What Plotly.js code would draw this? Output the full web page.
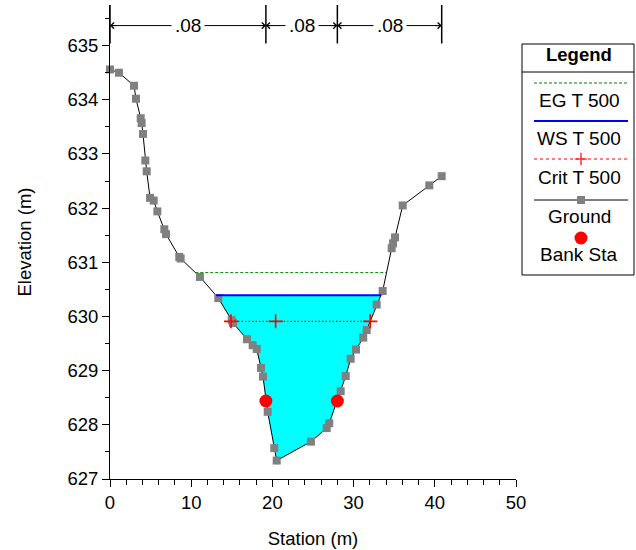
<!DOCTYPE html>
<html>
<head>
<meta charset="utf-8">
<script src="https://cdn.plot.ly/plotly-3.0.1.min.js"></script>
<style>html,body{margin:0;padding:0;background:#fff;}#chart{width:636px;height:550px;}</style>
</head>
<body>
<div id="chart"></div>
<script>
// ---- data ----
const station = [0, 1.1, 2.96, 3.2, 3.78, 3.9, 4.06, 4.35, 4.52, 4.93, 5.38, 5.83, 6.69, 6.9, 8.53, 8.7,
  11.08, 13.34, 14.99, 15.15, 16.87, 17.57, 18.07, 18.6, 18.84, 19.42, 20.23, 20.53,
  24.75, 26.69, 27.0, 28.41, 29.03, 29.64, 30.3, 31.19, 31.61, 32.84, 33.58,
  34.69, 34.85, 35.1, 36.05, 39.32, 40.85];
const elevation = [634.56, 634.5, 634.26, 634.02, 633.66, 633.57, 633.37, 632.88, 632.68, 632.19, 632.14, 631.94, 631.61, 631.52, 631.1, 631.07,
  630.73, 630.34, 629.93, 629.88, 629.58, 629.47, 629.4, 629.05, 628.89, 628.24, 627.57, 627.34,
  627.69, 627.94, 628.03, 628.62, 628.9, 629.22, 629.39, 629.61, 629.75, 630.22, 630.47,
  631.26, 631.35, 631.46, 632.05, 632.42, 632.59];
const bankStation = [19.2, 28.0];
const bankElevation = [628.44, 628.44];
const wsElevation = 630.39;
const wsStations = [13.05, 33.4];
const egElevation = 630.81;
const egStations = [10.5, 34.05];
const critElevation = 629.91;
const critStations = [14.9, 20.4, 32.05];
const nValues = ['.08', '.08', '.08'];
const nBounds = [0, 19.2, 28.0, 40.85];
const legendNames = ['EG T 500', 'WS T 500', 'Crit T 500', 'Ground', 'Bank Sta'];

// ---- styling ----
const FONT = 'Liberation Sans, Arial, sans-serif';
const FS = 18.5;
const FL = 19;
const cGround = '#808080', cWS = '#0000ff', cEG = '#008000', cCrit = '#ff0000', cFill = '#00ffff';

// fill polygon built from data
const fx = [wsStations[0]], fy = [wsElevation];
station.forEach((s, i) => { if (s > wsStations[0] && s < wsStations[1]) { fx.push(s); fy.push(elevation[i]); } });
fx.push(wsStations[1]); fy.push(wsElevation);

const traces = [
  {x: fx, y: fy, type: 'scatter', mode: 'lines', fill: 'toself', fillcolor: cFill, line: {width: 0}, hoverinfo: 'skip'},
  {x: station, y: elevation, type: 'scatter', mode: 'lines+markers', line: {color: '#000', width: 1},
   marker: {symbol: 'square', size: 8, color: cGround}},
  {x: egStations, y: egStations.map(() => egElevation), type: 'scatter', mode: 'lines',
   line: {color: cEG, width: 1, dash: '3px,2px'}},
  {x: wsStations, y: wsStations.map(() => wsElevation), type: 'scatter', mode: 'lines',
   line: {color: cWS, width: 2}},
  {x: critStations, y: critStations.map(() => critElevation), type: 'scatter', mode: 'lines+markers',
   line: {color: cCrit, width: 1.4, dash: '1.5px,2px'}, marker: {symbol: 'cross-thin', size: 10, color: cCrit, line: {color: cCrit, width: 1.6}}},
  {x: bankStation, y: bankElevation, type: 'scatter', mode: 'markers', marker: {symbol: 'circle', size: 13, color: cCrit}}
];

// ---- legend panel (axis 2 in pixel units) ----
const L = {x0: 522, x1: 634, y0: 44, y1: 275, sx0: 534, sx1: 628, cx: 581, tx: 579,
  header: 54, sep: 72, lines: [83, 121, 159, 200, 238], texts: [100, 138, 177, 216, 254]};
traces.push(
  {x: [L.sx0, L.sx1], y: [L.lines[0], L.lines[0]], xaxis: 'x2', yaxis: 'y2', mode: 'lines', line: {color: cEG, width: 1, dash: '3px,2px'}},
  {x: [L.sx0, L.sx1], y: [L.lines[1], L.lines[1]], xaxis: 'x2', yaxis: 'y2', mode: 'lines', line: {color: cWS, width: 2}},
  {x: [L.sx0, L.cx, L.sx1], y: [L.lines[2], L.lines[2], L.lines[2]], xaxis: 'x2', yaxis: 'y2', mode: 'lines+markers',
   line: {color: cCrit, width: 1, dash: 'dot'}, marker: {symbol: 'cross-thin', size: 9, color: cCrit, line: {color: cCrit, width: 1.2}, opacity: [0, 1, 0]}},
  {x: [L.sx0, L.cx, L.sx1], y: [L.lines[3], L.lines[3], L.lines[3]], xaxis: 'x2', yaxis: 'y2', mode: 'lines+markers',
   line: {color: '#000', width: 1}, marker: {symbol: 'square', size: 8, color: cGround, opacity: [0, 1, 0]}},
  {x: [L.cx], y: [L.lines[4]], xaxis: 'x2', yaxis: 'y2', mode: 'markers', marker: {symbol: 'circle', size: 13, color: cCrit}}
);

const shapes = [];
const annotations = [];
// n-value dimension marks
const dimY = 635.37;
nBounds.forEach(b => shapes.push({type: 'line', xref: 'x', yref: 'y', x0: b, x1: b, y0: 635.04, y1: 635.75, line: {color: '#000', width: 1.5}}));
nValues.forEach((n, i) => {
  const a = nBounds[i], b = nBounds[i + 1];
  shapes.push({type: 'line', xref: 'x', yref: 'y', x0: a, x1: b, y0: dimY, y1: dimY, line: {color: '#000', width: 1}});
  annotations.push({x: a, y: dimY, ax: a + 1, ay: dimY, axref: 'x', ayref: 'y', xref: 'x', yref: 'y', text: '', showarrow: true, arrowhead: 4, arrowsize: 1.2, arrowwidth: 1, arrowcolor: '#000'});
  annotations.push({x: b, y: dimY, ax: b - 1, ay: dimY, axref: 'x', ayref: 'y', xref: 'x', yref: 'y', text: '', showarrow: true, arrowhead: 4, arrowsize: 1.2, arrowwidth: 1, arrowcolor: '#000'});
});
nValues.forEach((n, i) => {
  const m = (nBounds[i] + nBounds[i + 1]) / 2;
  annotations.push({x: m, y: dimY, xref: 'x', yref: 'y', text: n, showarrow: false, bgcolor: '#fff', borderpad: 3, font: {family: FONT, size: FL, color: '#000'}});
});
// legend box
shapes.push({type: 'rect', xref: 'x2', yref: 'y2', x0: L.x0, x1: L.x1, y0: L.y0, y1: L.y1, line: {color: '#000', width: 1}, fillcolor: 'rgba(0,0,0,0)'});
shapes.push({type: 'line', xref: 'x2', yref: 'y2', x0: L.x0, x1: L.x1, y0: L.sep, y1: L.sep, line: {color: '#000', width: 1}});
annotations.push({xref: 'x2', yref: 'y2', x: L.tx, y: L.header, text: '<b>Legend</b>', showarrow: false, font: {family: FONT, size: FL - 0.5, color: '#000'}});
legendNames.forEach((t, i) => annotations.push({xref: 'x2', yref: 'y2', x: L.tx, y: L.texts[i], text: t, showarrow: false, font: {family: FONT, size: FL, color: '#000'}}));

const W = 636, H = 550, ml = 110, mr = 0, mt = 5, mb = 71;
const pw = W - ml - mr;
const layout = {
  width: W, height: H, showlegend: false,
  margin: {l: ml, r: mr, t: mt, b: mb, pad: 0},
  paper_bgcolor: '#fff', plot_bgcolor: '#fff',
  font: {family: FONT, size: FS, color: '#000'},
  xaxis: {domain: [0, 406 / pw], range: [0, 50], dtick: 10, tick0: 0, showgrid: false, zeroline: false,
    showline: true, linecolor: '#000', linewidth: 1, ticks: 'outside', ticklen: 7, tickcolor: '#000',
    minor: {dtick: 2, ticks: 'outside', ticklen: 5, tickcolor: '#000', showgrid: false},
    tickfont: {family: FONT, size: FS}, automargin: false,
    title: {text: 'Station (m)', font: {family: FONT, size: FS}, standoff: 19}},
  yaxis: {range: [627, 635.75], dtick: 1, tick0: 627, showgrid: false, zeroline: false,
    showline: true, linecolor: '#000', linewidth: 1, ticks: 'outside', ticklen: 7, tickcolor: '#000',
    minor: {dtick: 0.5, ticks: 'outside', ticklen: 4, tickcolor: '#000', showgrid: false},
    tickfont: {family: FONT, size: FS}, automargin: false,
    title: {text: 'Elevation (m)', font: {family: FONT, size: FS}, standoff: 30}},
  xaxis2: {domain: [(L.x0 - 1 - ml) / pw, (L.x1 + 1 - ml) / pw], range: [L.x0 - 1, L.x1 + 1], visible: false, fixedrange: true},
  yaxis2: {domain: [(H - mb - (L.y1 + 1)) / (H - mt - mb), (H - mb - (L.y0 - 1)) / (H - mt - mb)], range: [L.y1 + 1, L.y0 - 1], visible: false, anchor: 'x2', fixedrange: true},
  shapes: shapes, annotations: annotations
};
traces.forEach(t => { t.type = 'scatter'; t.hoverinfo = 'skip'; t.cliponaxis = false; });
Plotly.newPlot('chart', traces, layout, {staticPlot: true, displayModeBar: false});
</script>
</body>
</html>
